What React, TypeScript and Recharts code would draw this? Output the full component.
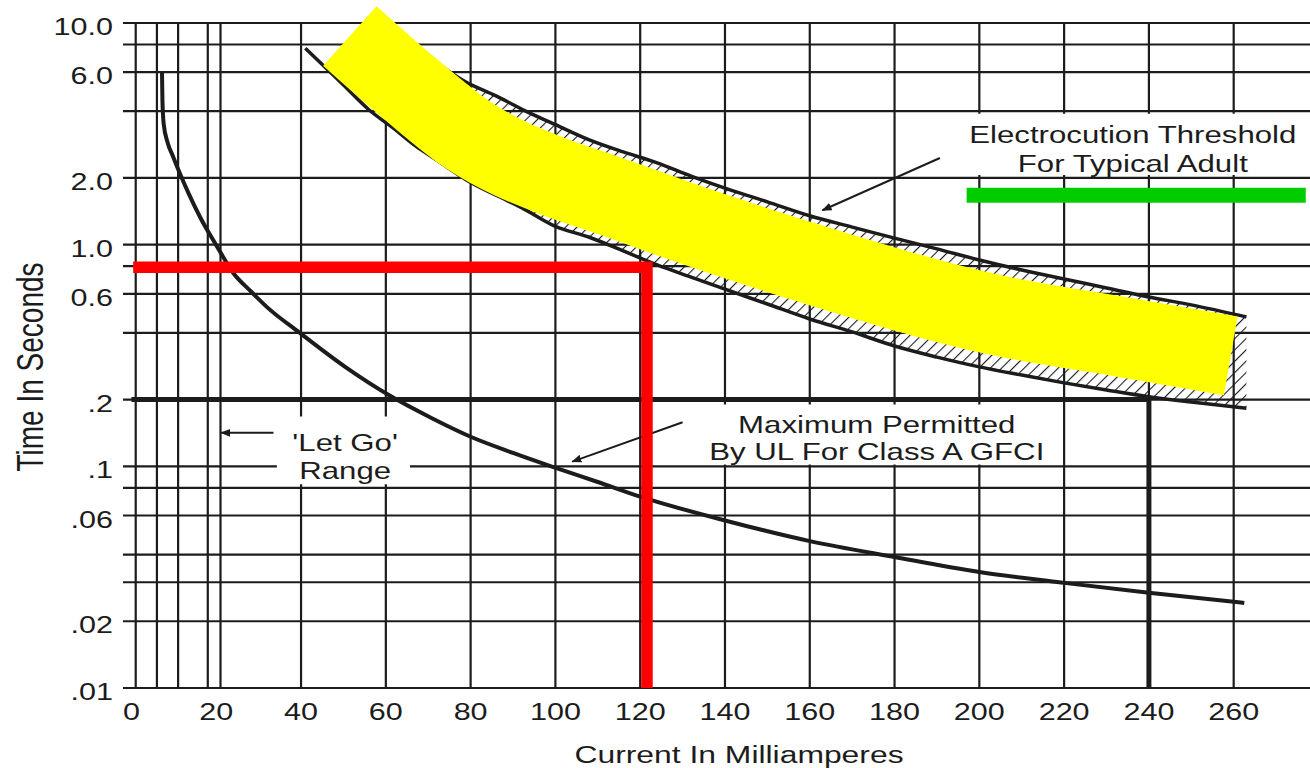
import React from 'react';
import {
  ComposedChart,
  Line,
  Area,
  XAxis,
  YAxis,
  CartesianGrid,
  ReferenceArea,
  ReferenceDot,
} from 'recharts';

// axis ticks
const X_TICKS = [0, 20, 40, 60, 80, 100, 120, 140, 160, 180, 200, 220, 240, 260];
const Y_TICKS = [10, 6, 2, 1, 0.6, 0.2, 0.1, 0.06, 0.02, 0.01];
const Y_TICK_LABELS = ['10.0', '6.0', '2.0', '1.0', '0.6', '.2', '.1', '.06', '.02', '.01'];

// grid lines (log paper)
const GRID_SECONDS = [10, 8, 6, 4, 2, 1, 0.8, 0.6, 0.4, 0.2, 0.1, 0.08, 0.06, 0.04, 0.03, 0.02, 0.01];
const GRID_MA = [1, 6, 11, 18, 21, 40, 60, 80, 100, 120, 140, 160, 180, 200, 220, 240, 260];

// 'let go' / GFCI trip curve
const LETGO_MA = [7.2, 7.3, 7.6, 8.5, 9.8, 11.4, 13.5, 16.2, 20.2, 24, 28, 31.9, 39.7, 50.4, 61, 71.1, 80, 90, 99, 110, 120, 140, 160, 180, 200, 220, 240, 262.5];
const LETGO_S = [6.0, 4.5, 3.5, 2.9, 2.5, 2.1, 1.7, 1.33, 0.98, 0.745, 0.62, 0.524, 0.4, 0.281, 0.208, 0.164, 0.136, 0.115, 0.1, 0.085, 0.073, 0.057, 0.046, 0.039, 0.0334, 0.0298, 0.0269, 0.0242];

// electrocution threshold band (lower / upper edge)
const THRESH_MA = [41, 45, 50, 56, 62, 67, 72, 79, 86, 92, 100, 108, 116, 124, 132, 140, 150, 160, 170, 180, 190, 200, 210, 220, 230, 240, 250, 263];
const THRESH_LOW = [7.7, 6.5, 5.25, 4.06, 3.33, 2.79, 2.41, 1.96, 1.67, 1.47, 1.21, 1.08, 0.937, 0.81, 0.714, 0.63, 0.54, 0.462, 0.404, 0.349, 0.311, 0.281, 0.258, 0.238, 0.221, 0.206, 0.195, 0.183];
const THRESH_HIGH: (number | null)[] = [null, null, null, null, 9.0, 7.7, 6.6, 5.4, 4.69, 4.09, 3.48, 2.97, 2.62, 2.34, 2.04, 1.8, 1.56, 1.35, 1.2, 1.07, 0.957, 0.853, 0.769, 0.7, 0.638, 0.581, 0.535, 0.472];

// UL class A limit (0.2 s up to 240 mA)
const UL_MA = [0, 240, 240];
const UL_S = [0.2, 0.2, 0.01];

// highlighter marks
const YELLOW_MA = [51.5, 65.7, 79.1, 100.4, 110.5, 134.1, 160.7, 203.2, 234.8, 259.3];
const YELLOW_S = [8.74, 5.05, 3.15, 2.0, 1.72, 1.19, 0.815, 0.485, 0.38, 0.315];
const RED_MA = [0.4, 121.6, 121.6];
const RED_S = [0.79, 0.79, 0.01];
const GREEN_MA = [197, 277];
const GREEN_S = [1.67, 1.67];

// annotation leaders
const LETGO_ARROW_MA = [33.5, 21.2];
const LETGO_ARROW_S = [0.1416, 0.1416];
const MAX_ARROW_MA = [130, 104];
const MAX_ARROW_S = [0.158, 0.105];
const ELEC_ARROW_MA = [190.7, 163];
const ELEC_ARROW_S = [2.46, 1.43];

const rows = (xs: number[], ts: number[]) => xs.map((x, i) => ({ x, t: ts[i] }));

const bandRows = THRESH_MA.map((x, i) => ({ x, low: THRESH_LOW[i], high: THRESH_HIGH[i] }));
const bandUpper = bandRows.filter((r) => r.high != null);

const FONT = '"Liberation Sans", Arial, Helvetica, sans-serif';
const INK = '#1c1c1c';

const StretchText = ({ x, y, children, anchor = 'middle', size = 24 }: any) => (
  <text
    transform={`translate(${x},${y}) scale(1.3,1)`}
    textAnchor={anchor}
    fontFamily={FONT}
    fontSize={size}
    fill={INK}
  >
    {children}
  </text>
);

const XTick = (p: any) => (
  <StretchText x={p.x} y={p.y + 32} size={23.5}>
    {p.payload.value}
  </StretchText>
);

const YTick = (p: any) => {
  const idx = Y_TICKS.indexOf(p.payload.value);
  return (
    <StretchText x={p.x - 10} y={p.y + 12} anchor="end" size={23.5}>
      {idx >= 0 ? Y_TICK_LABELS[idx] : String(p.payload.value)}
    </StretchText>
  );
};

const xTitle = (p: any) => {
  const vb = p.viewBox || { x: 123, y: 688, width: 1187, height: 80 };
  return (
    <StretchText x={vb.x + 616} y={vb.y + 75} size={24.5}>
      Current In Milliamperes
    </StretchText>
  );
};

const yTitle = (p: any) => {
  const vb = p.viewBox || { x: 0, y: 23, width: 123, height: 665 };
  return (
    <text
      transform={`translate(${vb.x + 43},${vb.y + 344}) rotate(-90) scale(1,1.3)`}
      textAnchor="middle"
      fontFamily={FONT}
      fontSize={28}
      fill={INK}
    >
      Time In Seconds
    </text>
  );
};

const textBlock = (lines: string[], gap: number) => (p: any) => (
  <g>
    {lines.map((s, i) => (
      <StretchText key={i} x={p.cx} y={p.cy + i * gap}>
        {s}
      </StretchText>
    ))}
  </g>
);

export default function App() {
  return (
    <div style={{ width: 1310, height: 768, background: '#fff' }}>
      <style>{'body{margin:0;background:#fff}'}</style>
      <ComposedChart width={1310} height={768} margin={{ top: 23, right: 0, bottom: 0, left: 0 }}>
        <defs>
          <pattern id="hatch" patternUnits="userSpaceOnUse" width="8" height="8" patternTransform="rotate(45)">
            <line x1="0" y1="0" x2="0" y2="8" stroke={INK} strokeWidth={2.2} />
          </pattern>
          <marker id="arrowHead" viewBox="0 0 10 10" refX="9" refY="5" markerWidth="5" markerHeight="5" orient="auto">
            <path d="M0,1 L10,5 L0,9 z" fill={INK} />
          </marker>
        </defs>

        <CartesianGrid
          stroke={INK}
          strokeWidth={2.2}
          horizontalValues={GRID_SECONDS}
          verticalValues={GRID_MA}
        />

        <XAxis
          type="number"
          dataKey="x"
          domain={[-2, 278]}
          ticks={X_TICKS}
          interval={0}
          axisLine={false}
          tickLine={false}
          tickSize={0}
          tickMargin={0}
          height={80}
          tick={(p: any) => <XTick {...p} />}
          label={xTitle}
        />
        <YAxis
          type="number"
          scale="log"
          domain={[0.01, 10]}
          ticks={Y_TICKS}
          interval={0}
          axisLine={false}
          tickLine={false}
          tickSize={0}
          tickMargin={0}
          width={123}
          tick={(p: any) => <YTick {...p} />}
          label={yTitle}
        />

        {/* hatched threshold band */}
        <Area
          data={bandUpper}
          dataKey={(r: any) => [r.low, r.high]}
          type="monotone"
          stroke="none"
          fill="url(#hatch)"
          fillOpacity={1}
          isAnimationActive={false}
        />
        <Line data={bandRows} dataKey="low" type="monotone" stroke={INK} strokeWidth={3.5} dot={false} activeDot={false} isAnimationActive={false} />
        <Line data={bandUpper} dataKey="high" type="monotone" stroke={INK} strokeWidth={3.5} dot={false} activeDot={false} isAnimationActive={false} />

        {/* let-go curve */}
        <Line data={rows(LETGO_MA, LETGO_S)} dataKey="t" type="monotone" stroke={INK} strokeWidth={4} dot={false} activeDot={false} isAnimationActive={false} />

        {/* UL limit */}
        <Line data={rows(UL_MA, UL_S)} dataKey="t" type="linear" stroke={INK} strokeWidth={5} strokeLinejoin="miter" dot={false} activeDot={false} isAnimationActive={false} />

        {/* label backgrounds */}
        <ReferenceArea x1={194} x2={278} y1={2.06} y2={3.9} fill="#fff" fillOpacity={1} stroke="none" ifOverflow="visible" />
        <ReferenceArea x1={134} x2={218.5} y1={0.102} y2={0.19} fill="#fff" fillOpacity={1} stroke="none" ifOverflow="visible" />
        <ReferenceArea x1={34.3} x2={65.7} y1={0.083} y2={0.168} fill="#fff" fillOpacity={1} stroke="none" ifOverflow="visible" />

        {/* leaders */}
        <Line data={rows(LETGO_ARROW_MA, LETGO_ARROW_S)} dataKey="t" type="linear" stroke={INK} strokeWidth={2} markerEnd="url(#arrowHead)" dot={false} activeDot={false} isAnimationActive={false} />
        <Line data={rows(MAX_ARROW_MA, MAX_ARROW_S)} dataKey="t" type="linear" stroke={INK} strokeWidth={2} markerEnd="url(#arrowHead)" dot={false} activeDot={false} isAnimationActive={false} />
        <Line data={rows(ELEC_ARROW_MA, ELEC_ARROW_S)} dataKey="t" type="linear" stroke={INK} strokeWidth={2} markerEnd="url(#arrowHead)" dot={false} activeDot={false} isAnimationActive={false} />

        {/* annotations */}
        <ReferenceDot x={236.2} y={2.875} r={0} ifOverflow="visible" shape={textBlock(['Electrocution Threshold', 'For Typical Adult'], 29)} />
        <ReferenceDot x={175.8} y={0.1416} r={0} ifOverflow="visible" shape={textBlock(['Maximum Permitted', 'By UL For Class A GFCI'], 27)} />
        <ReferenceDot x={50.4} y={0.1173} r={0} ifOverflow="visible" shape={textBlock(["'Let Go'", 'Range'], 28)} />

        {/* highlighter marks */}
        <Line data={rows(YELLOW_MA, YELLOW_S)} dataKey="t" type="monotone" stroke="#ffff00" strokeWidth={80} strokeLinecap="butt" strokeLinejoin="round" dot={false} activeDot={false} isAnimationActive={false} />
        <Line data={rows(RED_MA, RED_S)} dataKey="t" type="linear" stroke="#ff0000" strokeWidth={11.5} strokeLinecap="butt" strokeLinejoin="miter" dot={false} activeDot={false} isAnimationActive={false} />
        <Line data={rows(GREEN_MA, GREEN_S)} dataKey="t" type="linear" stroke="#00cc00" strokeWidth={15} strokeLinecap="butt" dot={false} activeDot={false} isAnimationActive={false} />
      </ComposedChart>
    </div>
  );
}
